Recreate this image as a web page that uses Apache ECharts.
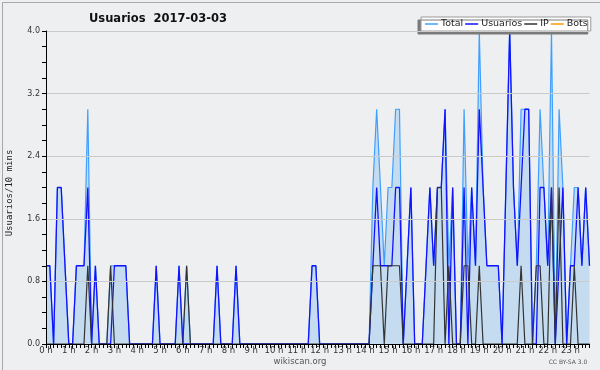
<!DOCTYPE html>
<html>
<head>
<meta charset="utf-8">
<title>Usuarios 2017-03-03</title>
<script src="https://cdn.jsdelivr.net/npm/echarts@6/dist/echarts.min.js"></script>
<style>
  html, body { margin: 0; padding: 0; background: #eeeff1; }
  #container { width: 600px; height: 370px; }
</style>
</head>
<body>
<div id="container"></div>
<script>
// etiquetas de las horas (un punto cada 10 minutos)
var horas = ['0 h', '1 h', '2 h', '3 h', '4 h', '5 h', '6 h', '7 h', '8 h', '9 h', '10 h', '11 h',
             '12 h', '13 h', '14 h', '15 h', '16 h', '17 h', '18 h', '19 h', '20 h', '21 h', '22 h', '23 h'];

var total = [
  1,1,0,2,2,1,0,0,1,1,1,3,
  0,1,0,0,0,1,1,1,1,1,0,0,
  0,0,0,0,0,1,0,0,0,0,0,1,
  0,1,0,0,0,0,0,0,0,1,0,0,
  0,0,1,0,0,0,0,0,0,0,0,0,
  0,0,0,0,0,0,0,0,0,0,1,1,
  0,0,0,0,0,0,0,0,0,0,0,0,
  0,0,2,3,2,1,2,2,3,3,0,1,
  2,0,0,0,1,2,1,2,2,3,1,2,
  0,0,3,1,2,1,4,2,1,1,1,1,
  0,2,4,2,1,3,3,3,0,1,3,2,
  1,4,0,3,2,0,1,2,2,1,2,1
];

var usuarios = [
  1,1,0,2,2,1,0,0,1,1,1,2,
  0,1,0,0,0,0,1,1,1,1,0,0,
  0,0,0,0,0,1,0,0,0,0,0,1,
  0,0,0,0,0,0,0,0,0,1,0,0,
  0,0,1,0,0,0,0,0,0,0,0,0,
  0,0,0,0,0,0,0,0,0,0,1,1,
  0,0,0,0,0,0,0,0,0,0,0,0,
  0,0,1,2,1,1,1,1,2,2,0,1,
  2,0,0,0,1,2,1,2,2,3,0,2,
  0,0,2,0,2,1,3,2,1,1,1,1,
  0,2,4,2,1,2,3,3,0,0,2,2,
  1,2,0,1,2,0,1,1,2,1,2,1
];

var ip = [
  0,0,0,0,0,0,0,0,0,0,0,1,
  0,0,0,0,0,1,0,0,0,0,0,0,
  0,0,0,0,0,0,0,0,0,0,0,0,
  0,1,0,0,0,0,0,0,0,0,0,0,
  0,0,0,0,0,0,0,0,0,0,0,0,
  0,0,0,0,0,0,0,0,0,0,0,0,
  0,0,0,0,0,0,0,0,0,0,0,0,
  0,0,1,1,1,0,1,1,1,1,0,0,
  0,0,0,0,0,0,0,2,2,0,1,0,
  0,0,1,1,0,0,1,0,0,0,0,0,
  0,0,0,0,0,1,0,0,0,1,1,0,
  0,2,0,2,0,0,0,1,0,0,0,0
];

var bots = [
  0,0,0,0,0,0,0,0,0,0,0,0,
  0,0,0,0,0,0,0,0,0,0,0,0,
  0,0,0,0,0,0,0,0,0,0,0,0,
  0,0,0,0,0,0,0,0,0,0,0,0,
  0,0,0,0,0,0,0,0,0,0,0,0,
  0,0,0,0,0,0,0,0,0,0,0,0,
  0,0,0,0,0,0,0,0,0,0,0,0,
  0,0,0,0,0,0,0,0,0,0,0,0,
  0,0,0,0,0,0,0,0,0,0,0,0,
  0,0,0,0,0,0,0,0,0,0,0,0,
  0,0,0,0,0,0,0,0,0,0,0,0,
  0,0,0,0,0,0,0,0,0,0,0,0
];

window.onload = function () {
    var categorias = [];
    for (var i = 0; i < total.length; i++) {
        categorias.push(i % 6 === 0 ? horas[i / 6] : '');
    }

    var option = {
        animation: false,
        backgroundColor: '#eeeff1',
        title: {
            text: 'Usuarios  2017-03-03',
            left: 84,
            top: 8,
            textStyle: { fontFamily: 'DejaVu Sans', fontWeight: 'bold', fontSize: 11.5, color: '#111' }
        },
        legend: {
            data: ['Total', 'Usuarios', 'IP', 'Bots'],
            left: 421,
            top: 17,
            padding: [2, 3, 2, 4],
            itemGap: 2,
            itemWidth: 13,
            itemHeight: 1.5,
            icon: 'rect',
            backgroundColor: '#ffffff',
            borderColor: '#999999',
            borderWidth: 1,
            shadowColor: '#7a7a7a',
            shadowBlur: 0,
            shadowOffsetX: -3,
            shadowOffsetY: 3,
            textStyle: { fontFamily: 'DejaVu Sans', fontSize: 9.5, color: '#222', padding: [0, 0, 0, -2] }
        },
        grid: { left: 46, right: 10.5, top: 31, bottom: 26 },
        xAxis: {
            type: 'category',
            data: categorias,
            boundaryGap: false,
            z: 10,
            axisLine: { lineStyle: { color: '#000', width: 1 } },
            axisTick: { interval: 0, length: 4, lineStyle: { color: '#000' } },
            axisLabel: { interval: 5, margin: 2, fontFamily: 'DejaVu Sans', fontSize: 8.5, color: '#333' },
            splitLine: { show: false }
        },
        yAxis: {
            type: 'value',
            min: 0,
            max: 4,
            interval: 0.8,
            z: 10,
            axisLine: { show: true, lineStyle: { color: '#000', width: 1 } },
            axisTick: { show: true, length: 4, lineStyle: { color: '#000' } },
            minorTick: { show: true, splitNumber: 4, length: 4, lineStyle: { color: '#000' } },
            axisLabel: {
                margin: 6, fontFamily: 'DejaVu Sans', fontSize: 8, color: '#333',
                formatter: function (v) { return v.toFixed(1); }
            },
            splitLine: { lineStyle: { color: '#cacaca', width: 1 } }
        },
        graphic: [
            {
                type: 'text', x: 10, y: 193, rotation: Math.PI / 2,
                style: { text: 'Usuarios/10 mins', fontFamily: 'DejaVu Sans Mono', fontSize: 9, fill: '#222', align: 'center', verticalAlign: 'middle' }
            },
            {
                type: 'text', x: 300, y: 362,
                style: { text: 'wikiscan.org', fontFamily: 'DejaVu Sans', fontSize: 8.5, fill: '#555', align: 'center', verticalAlign: 'middle' }
            },
            {
                type: 'text', x: 568, y: 362,
                style: { text: 'CC BY-SA 3.0', fontFamily: 'DejaVu Sans', fontSize: 6, fill: '#555', align: 'center', verticalAlign: 'middle' }
            },
            {
                type: 'rect', left: 0, top: 0, z: 100, silent: true,
                shape: { x: 0.5, y: 0.5, width: 599, height: 369 },
                style: { fill: 'none', stroke: '#a8a8a8', lineWidth: 1 }
            }
        ],
        series: [
            {
                name: 'Total',
                type: 'line',
                data: total,
                symbol: 'none',
                z: 2,
                lineStyle: { color: '#3f9fff', width: 1.2 },
                itemStyle: { color: '#3f9fff' },
                areaStyle: { color: '#c5dcf0', opacity: 1 }
            },
            {
                name: 'Usuarios',
                type: 'line',
                data: usuarios,
                symbol: 'none',
                z: 3,
                lineStyle: { color: '#1212ff', width: 1.3 },
                itemStyle: { color: '#1212ff' }
            },
            {
                name: 'IP',
                type: 'line',
                data: ip,
                symbol: 'none',
                z: 4,
                lineStyle: { color: '#333333', width: 1.2 },
                itemStyle: { color: '#333333' }
            },
            {
                name: 'Bots',
                type: 'line',
                data: bots,
                symbol: 'none',
                z: 1,
                lineStyle: { color: '#ff9900', width: 1.2 },
                itemStyle: { color: '#ff9900' }
            }
        ]
    };

    var myChart = echarts.init(document.getElementById('container'));
    myChart.setOption(option);
};
</script>
</body>
</html>
